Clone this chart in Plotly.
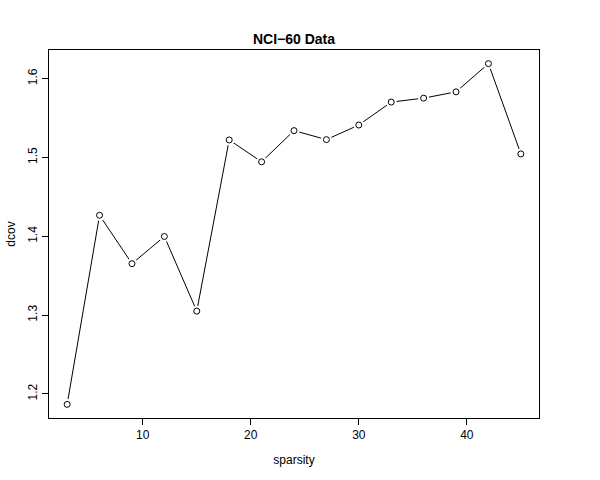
import plotly.graph_objects as go

sparsity = [3, 6, 9, 12, 15, 18, 21, 24, 27, 30, 33, 36, 39, 42, 45]
dcov = [1.1867, 1.4266, 1.3652, 1.3997, 1.3050, 1.5222, 1.4944, 1.5340,
        1.5226, 1.5411, 1.5702, 1.5752, 1.5832, 1.6190, 1.5045]
x_ticks = [10, 20, 30, 40]
y_ticks = [1.2, 1.3, 1.4, 1.5, 1.6]

xr = (min(sparsity), max(sparsity))
yr = (min(dcov), max(dcov))
xpad = 0.04 * (xr[1] - xr[0])
ypad = 0.04 * (yr[1] - yr[0])

fig = go.Figure()
fig.add_trace(go.Scatter(x=sparsity, y=dcov, mode="lines",
                         line=dict(color="black", width=1), hoverinfo="skip"))
fig.add_trace(go.Scatter(x=sparsity, y=dcov, mode="markers",
                         marker=dict(symbol="circle", size=11, color="white",
                                     line=dict(width=0)), hoverinfo="skip"))
fig.add_trace(go.Scatter(x=sparsity, y=dcov, mode="markers",
                         marker=dict(symbol="circle-open", size=6, color="black",
                                     line=dict(width=1, color="black"))))

font = dict(family="Liberation Sans, Arial, sans-serif", size=12, color="black")
fig.update_layout(
    width=600, height=480,
    margin=dict(l=49, r=61, t=50, b=62, pad=0),
    paper_bgcolor="white", plot_bgcolor="white",
    showlegend=False,
    font=font,
    title=dict(text="<b>NCI\u221260 Data</b>", x=(49 + 539) / 2 / 600, xanchor="center",
               y=1 - 39 / 480, yanchor="middle",
               font=dict(family="Liberation Sans, Arial, sans-serif", size=14, color="black")),
    xaxis=dict(range=[xr[0] - xpad, xr[1] + xpad], tickvals=x_ticks,
               ticktext=[str(v) for v in x_ticks], automargin=False,
               showgrid=False, zeroline=False, showline=True, mirror=True,
               linecolor="black", linewidth=1, ticks="outside", ticklen=6,
               tickcolor="black", tickwidth=1,
               title=dict(text="sparsity", standoff=14, font=font)),
    yaxis=dict(range=[yr[0] - ypad, yr[1] + ypad], tickvals=y_ticks,
               ticktext=[f"{v:.1f}" for v in y_ticks], tickangle=-90,
               automargin=False,
               showgrid=False, zeroline=False, showline=True, mirror=True,
               linecolor="black", linewidth=1, ticks="outside", ticklen=6,
               tickcolor="black", tickwidth=1,
               title=dict(text="dcov", standoff=8, font=font)),
)

fig.write_html("out.html", config={"displayModeBar": False},
               post_script="document.body.style.margin='0';")
